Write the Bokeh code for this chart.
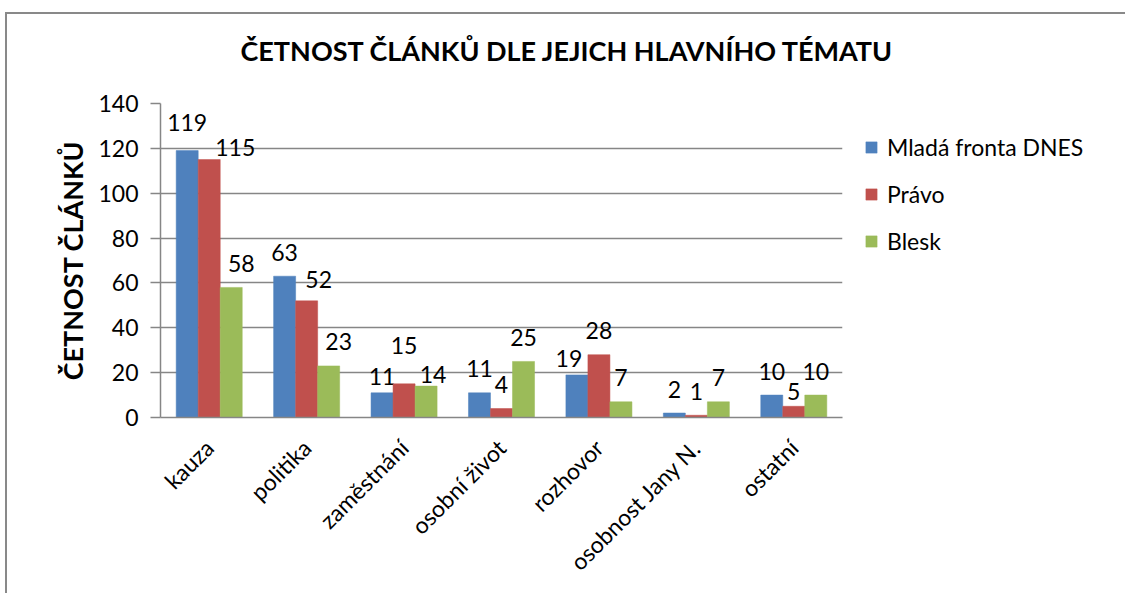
from bokeh.plotting import figure
from bokeh.models import ColumnDataSource, FactorRange, Range1d, Legend, LegendItem, Title
from bokeh.transform import dodge
from bokeh.core.properties import value
from bokeh.embed import file_html
from bokeh.resources import INLINE
import math

categories = ["kauza", "politika", "zaměstnání", "osobní život", "rozhovor", "osobnost Jany N.", "ostatní"]
series_names = ["Mladá fronta DNES", "Právo", "Blesk"]
mfd = [119, 63, 11, 11, 19, 2, 10]
pravo = [115, 52, 15, 4, 28, 1, 5]
blesk = [58, 23, 14, 25, 7, 7, 10]
y_ticks = [0, 20, 40, 60, 80, 100, 120, 140]
title_text = "ČETNOST ČLÁNKŮ DLE JEJICH  HLAVNÍHO TÉMATU"
y_title = "ČETNOST ČLÁNKŮ"

# label nudges (pixels) to mimic manually placed data labels
mfd_dx = [0, 0, 0, 0, -8, 0, 0]
mfd_dy = [-4, 0, 8, 0, 8, 0, 0]
pravo_dx = [26, 12, 0, 0, 0, 0, 0]
pravo_dy = [12, 3, -14, 0, 0, 0, 9]
blesk_dx = [10, 10, 7, 0, 0, 0, 0]
blesk_dy = [0, 0, 12, 0, 0, 0, 0]

colors = ["#4F81BD", "#C0504D", "#9BBB59"]
FONT = "Lato"
GRID = "#868686"
BASE = -24

p = figure(
    x_range=FactorRange(*categories),
    y_range=Range1d(0, 140),
    frame_width=682, frame_height=314,
    min_border_left=153, min_border_right=265,
    min_border_top=89, min_border_bottom=176,
    output_backend="svg", toolbar_location=None,
    background_fill_color="white", border_fill_color="white",
    styles={"border-left": "2px solid #898989", "border-top": "2px solid #898989",
            "border-right": "2px solid #898989", "margin-top": "12px", "margin-left": "5px"},
)
p.outline_line_color = None

# spacer between frame and title (sits nearest the frame)
p.add_layout(Title(text=" ", text_font_size="1px", standoff=29), "above")

p.title.text = title_text
p.title.align = "left"
p.title.offset = 80
p.title.standoff = 10
p.title.text_font = FONT
p.title.text_font_style = "bold"
p.title.text_font_size = "27px"
p.title.text_color = "black"

src = ColumnDataSource(dict(
    cat=categories, mfd=mfd, pravo=pravo, blesk=blesk,
    mfd_t=[str(v) for v in mfd], pravo_t=[str(v) for v in pravo], blesk_t=[str(v) for v in blesk],
    mfd_dx=mfd_dx, mfd_dy=[d + BASE for d in mfd_dy],
    pravo_dx=pravo_dx, pravo_dy=[d + BASE for d in pravo_dy],
    blesk_dx=blesk_dx, blesk_dy=[d + BASE for d in blesk_dy],
))

bw = 0.226
offsets = [-bw, 0.0, bw]
keys = ["mfd", "pravo", "blesk"]
renderers = []
for k, off, c in zip(keys, offsets, colors):
    r = p.vbar(x=dodge("cat", off, range=p.x_range), top=k, width=bw, source=src,
               fill_color=c, line_color=c, line_width=0.5)
    renderers.append(r)
    p.text(x=dodge("cat", off, range=p.x_range), y=k, text=k + "_t", source=src,
           x_offset=k + "_dx", y_offset=k + "_dy",
           text_align="center", text_baseline="alphabetic",
           text_font=value(FONT), text_font_size="23px", text_color="black")

p.yaxis.ticker = y_ticks
p.yaxis.major_tick_out = 10
p.yaxis.major_tick_in = 0
p.yaxis.minor_tick_line_color = None
p.yaxis.major_tick_line_color = GRID
p.yaxis.major_tick_line_width = 1.5
p.yaxis.axis_line_color = GRID
p.yaxis.axis_line_width = 1.5
p.yaxis.major_label_text_font = FONT
p.yaxis.major_label_text_font_size = "23px"
p.yaxis.major_label_text_color = "black"
p.yaxis.major_label_standoff = 12
p.yaxis.axis_label = y_title
p.yaxis.axis_label_text_font = FONT
p.yaxis.axis_label_text_font_style = "bold"
p.yaxis.axis_label_text_font_size = "27px"
p.yaxis.axis_label_text_color = "black"
p.yaxis.axis_label_standoff = 6

p.xaxis.major_tick_line_color = None
p.xaxis.minor_tick_line_color = None
p.xaxis.axis_line_color = GRID
p.xaxis.axis_line_width = 1.5
p.xaxis.major_label_orientation = math.pi / 4
p.xaxis.major_label_text_font = FONT
p.xaxis.major_label_text_font_size = "23px"
p.xaxis.major_label_text_color = "black"
p.xaxis.major_label_standoff = 20

p.xgrid.grid_line_color = None
p.ygrid.grid_line_color = GRID
p.ygrid.grid_line_width = 1.5

legend = Legend(
    items=[LegendItem(label=n, renderers=[r]) for n, r in zip(series_names, renderers)],
    location=(22, 162), orientation="vertical",
    glyph_width=14, glyph_height=14, label_height=28, spacing=19, label_standoff=9,
    padding=0, margin=0, border_line_color=None, background_fill_alpha=0,
    label_text_font=FONT, label_text_font_size="23px", label_text_color="black",
)
p.add_layout(legend, "right")

open("out.html", "w").write(file_html(p, INLINE))
